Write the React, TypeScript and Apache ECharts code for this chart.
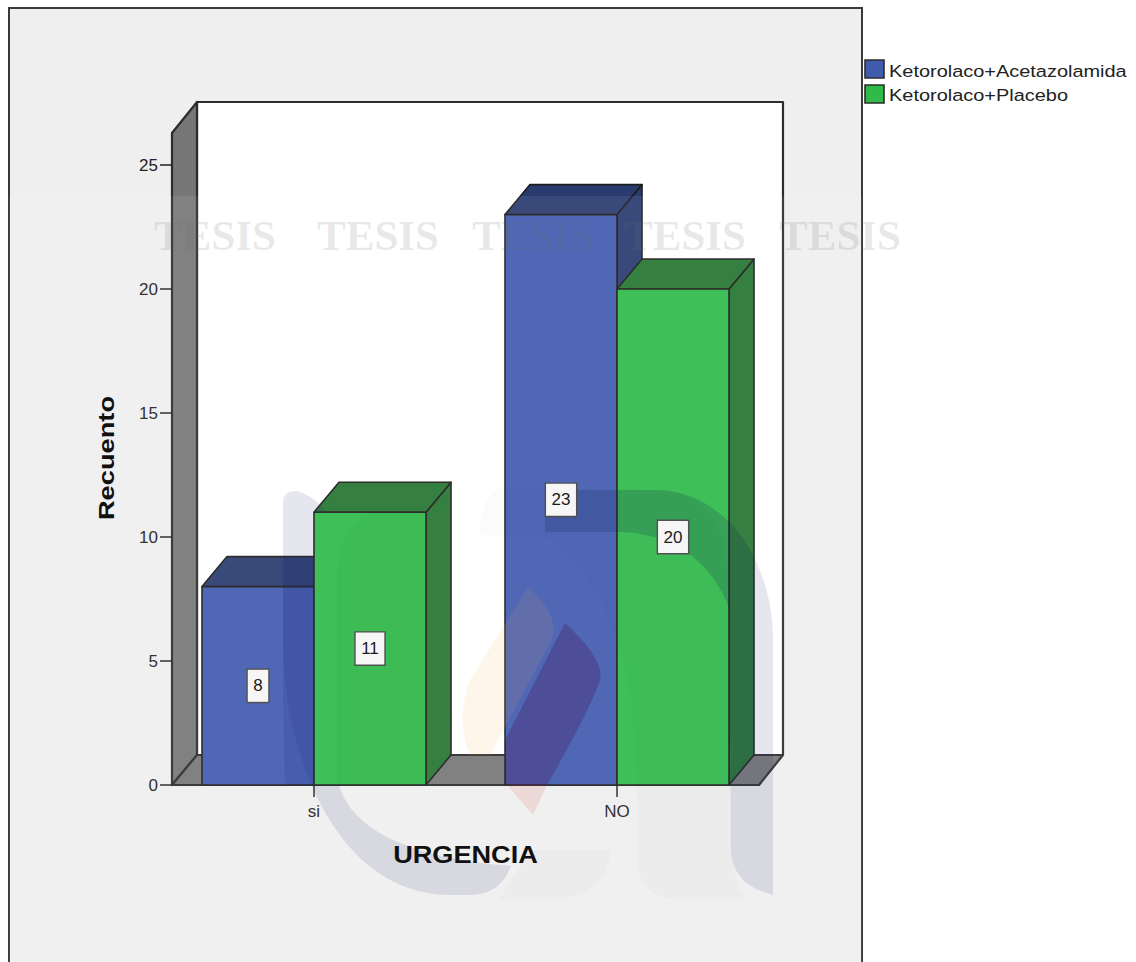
import React, { useEffect, useRef } from "react";
import * as echarts from "echarts";

// Counts per urgency answer and treatment arm
const categories = ["si", "NO"];
const acetazolamida = [8, 23];
const placebo = [11, 20];
const seriesNames = ["Ketorolaco+Acetazolamida", "Ketorolaco+Placebo"];
const watermarkWord = "TESIS";
const watermarkXs = [215, 378, 533, 685, 840];

// Oblique projection used for the pseudo 3D box look
const DEPTH_X = 25;
const DEPTH_Y = -30;
const BAR_SHARE = 112 / 303;

const FONT = '"Liberation Sans", Arial, sans-serif';
const EDGE = "#1c1c1c";

const PALETTE = [
  { front: "#415baf", shade: "#293b6f" },
  { front: "#2fba4a", shade: "#247530" },
];

echarts.graphic.registerShape(
  "sealBand",
  echarts.graphic.extendPath(
    "M283 503Q283 491 296 491Q312 494 327 512L314 512L314 785L339 785C352 830 410 858 511 866Q500 895 470 895L450 895C340 895 283 760 283 640Z",
    {}
  )
);
echarts.graphic.registerShape(
  "sealBandOnBox",
  echarts.graphic.extendPath("M283 557L314 557L314 785L285 785Q283 720 283 640Z", {})
);
echarts.graphic.registerShape(
  "sealArch",
  echarts.graphic.extendPath(
    "M545 490L655 490C725 490 773 560 773 640L773 895Q732 885 731 850L730 610C712 560 670 532 617 532L545 532Z",
    {}
  )
);
echarts.graphic.registerShape(
  "sealArchOnBox",
  echarts.graphic.extendPath(
    "M545 490L655 490C700 490 735 520 754 556L754 755L730 785L730 610C712 560 670 532 617 532L545 532Z",
    {}
  )
);
echarts.graphic.registerShape(
  "sealFaint",
  echarts.graphic.extendPath(
    "M480 535Q480 487 510 487L655 490C725 490 730 560 730 610L732 860Q735 885 747 900L684 900Q638 900 638 860L637 785C637 700 620 590 550 538Z",
    {}
  )
);
echarts.graphic.registerShape(
  "sealFoot",
  echarts.graphic.extendPath("M530 850L610 850Q610 890 560 900L499 900Z", {})
);
echarts.graphic.registerShape(
  "sealColumn",
  echarts.graphic.extendPath("M337 570Q340 525 372 512L426 512L426 785L337 785Z", {})
);
echarts.graphic.registerShape(
  "flameGold",
  echarts.graphic.extendPath("M528 587Q560 615 552 640L490 755L470 755Q455 720 470 680Z", {})
);
echarts.graphic.registerShape(
  "flamePlum",
  echarts.graphic.extendPath("M565 623Q605 660 600 680Q590 710 547 785L505 785L505 740Z", {})
);
echarts.graphic.registerShape(
  "flameRose",
  echarts.graphic.extendPath("M507 785L547 785L533 815Z", {})
);

function barOffsetSign(seriesIndex: number) {
  return seriesIndex === 0 ? -1 : 0;
}

// One box: front face plus the receding top and side faces
function renderBox(params: any, api: any) {
  const tint = PALETTE[params.seriesIndex];
  const index = api.value(0);
  const [cx, top] = api.coord([index, api.value(1)]);
  const base = api.coord([index, 0])[1];
  const width = api.size([1, 0])[0] * BAR_SHARE;
  const left = cx + barOffsetSign(params.seriesIndex) * width;
  const right = left + width;
  const line = { stroke: EDGE, lineWidth: 1.6, lineJoin: "round" };
  return {
    type: "group",
    children: [
      {
        type: "polygon",
        shape: { points: [[right, top], [right + DEPTH_X, top + DEPTH_Y], [right + DEPTH_X, base + DEPTH_Y], [right, base]] },
        style: { fill: tint.shade, ...line },
      },
      {
        type: "polygon",
        shape: { points: [[left, top], [left + DEPTH_X, top + DEPTH_Y], [right + DEPTH_X, top + DEPTH_Y], [right, top]] },
        style: { fill: tint.shade, ...line },
      },
      {
        type: "rect",
        shape: { x: left, y: top, width, height: base - top },
        style: { fill: tint.front, ...line },
      },
    ],
  };
}

// Value tag in the middle of a box front
function renderTag(armIndex: number) {
  return (_params: any, api: any) => {
    const index = api.value(0);
    const value = api.value(1);
    const [cx, top] = api.coord([index, value]);
    const base = api.coord([index, 0])[1];
    const width = api.size([1, 0])[0] * BAR_SHARE;
    const x = cx + (barOffsetSign(armIndex) + 0.5) * width;
    const y = (top + base) / 2;
    return {
      type: "text",
      x,
      y,
      style: {
        text: String(value),
        fill: "#1a1a1a",
        font: `17px ${FONT}`,
        align: "center",
        verticalAlign: "middle",
        backgroundColor: "#f6f6f6",
        borderColor: "#505050",
        borderWidth: 1.4,
        padding: [8, 5.5, 7, 5.5],
      },
    };
  };
}

const toData = (values: number[]) => values.map((v, i) => [i, v]);

function buildFrame() {
  const frameLine = { stroke: "#2c2c2c", lineWidth: 2.2, lineJoin: "round" };
  return [
    { type: "rect", z: -2, shape: { x: 9, y: 8, width: 853, height: 954 }, style: { fill: "#efefef" } },
    {
      type: "polyline",
      z: -2,
      shape: { points: [[9, 962], [9, 8], [862, 8], [862, 962]] },
      style: { fill: "none", stroke: "#3a3a3a", lineWidth: 2 },
    },
    { type: "rect", z: -1, shape: { x: 197, y: 102, width: 586, height: 653 }, style: { fill: "#ffffff", ...frameLine } },
    {
      type: "polygon",
      z: -1,
      shape: { points: [[172, 133], [197, 102], [197, 755], [172, 785]] },
      style: { fill: "#777777", ...frameLine },
    },
    {
      type: "polygon",
      z: -1,
      shape: { points: [[172, 785], [197, 755], [783, 755], [759, 785]] },
      style: { fill: "#777777", ...frameLine },
    },
  ];
}

function buildOverlay() {
  const word = watermarkXs.map((x) => ({
    type: "text",
    z: 10,
    x,
    y: 235,
    style: {
      text: watermarkWord,
      fill: "rgba(110,110,110,0.16)",
      font: `bold 43px "Liberation Serif", serif`,
      align: "center",
      verticalAlign: "middle",
    },
  }));
  const seal = [
    { type: "sealFaint", fill: "rgba(30,30,80,0.02)" },
    { type: "sealFoot", fill: "rgba(30,30,80,0.02)" },
    { type: "sealColumn", fill: "rgba(0,30,20,0.025)" },
    { type: "sealBand", fill: "rgba(25,30,105,0.11)" },
    { type: "sealBandOnBox", fill: "rgba(20,30,110,0.12)" },
    { type: "sealArch", fill: "rgba(25,30,105,0.11)" },
    { type: "sealArchOnBox", fill: "rgba(10,50,50,0.09)" },
    { type: "flameGold", fill: "rgba(245,175,70,0.11)" },
    { type: "flamePlum", fill: "rgba(70,0,60,0.24)" },
    { type: "flameRose", fill: "rgba(225,60,60,0.13)" },
  ].map((s) => ({ type: s.type, z: 10, x: 0, y: 0, style: { fill: s.fill } }));
  return [
    {
      type: "rect",
      z: 9,
      shape: { x: 9, y: 196, width: 853, height: 766 },
      style: { fill: "rgba(255,255,255,0.08)" },
    },
    ...seal,
    ...word,
  ];
}

function buildCaptions() {
  const legend = seriesNames.flatMap((name, i) => [
    {
      type: "rect",
      z: 12,
      shape: { x: 865, y: 60 + i * 25, width: 19, height: 18 },
      style: { fill: PALETTE[i].front, stroke: "#2c2c2c", lineWidth: 1.6 },
    },
    {
      type: "text",
      z: 12,
      x: 889,
      y: 71 + i * 24,
      scaleX: 1.174,
      style: { text: name, fill: "#222222", font: `17px ${FONT}`, align: "left", verticalAlign: "middle" },
    },
  ]);
  return [
    ...legend,
    {
      type: "text",
      z: 12,
      x: 465.5,
      y: 855,
      scaleX: 1.18,
      style: { text: "URGENCIA", fill: "#111111", font: `bold 23px ${FONT}`, align: "center", verticalAlign: "middle" },
    },
    {
      type: "text",
      z: 12,
      x: 106,
      y: 458,
      rotation: Math.PI / 2,
      scaleX: 1.24,
      style: { text: "Recuento", fill: "#111111", font: `bold 22px ${FONT}`, align: "center", verticalAlign: "middle" },
    },
  ];
}

export default function App() {
  const ref = useRef<HTMLDivElement>(null);
  useEffect(() => {
    const chart = echarts.init(ref.current!, undefined, { renderer: "svg" });
    const arms = [acetazolamida, placebo];
    chart.setOption({
      animation: false,
      backgroundColor: "#ffffff",
      grid: { left: 162.5, width: 606, top: 165, height: 620, containLabel: false },
      xAxis: {
        type: "category",
        data: categories,
        axisLine: { show: false },
        axisTick: { show: true, alignWithLabel: true, length: 12, lineStyle: { color: "#222222", width: 1.5 } },
        axisLabel: { color: "#222222", fontFamily: FONT, fontSize: 17, margin: 18, interval: 0 },
      },
      yAxis: {
        type: "value",
        min: 0,
        max: 25,
        interval: 5,
        offset: -9.5,
        splitLine: { show: false },
        axisLine: { show: false },
        axisTick: { show: true, length: 12, lineStyle: { color: "#222222", width: 1.5 } },
        axisLabel: { color: "#222222", fontFamily: FONT, fontSize: 17, margin: 14 },
      },
      graphic: { elements: [...buildFrame(), ...buildOverlay(), ...buildCaptions()] },
      series: [
        ...arms.map((values, i) => ({
          type: "custom",
          name: seriesNames[i],
          z: 2,
          clip: false,
          renderItem: renderBox,
          encode: { x: 0, y: 1 },
          data: toData(values),
        })),
        ...arms.map((values, i) => ({
          type: "custom",
          name: `${seriesNames[i]} valor`,
          z: 11,
          clip: false,
          renderItem: renderTag(i),
          encode: { x: 0, y: 1 },
          data: toData(values),
        })),
      ],
    });
    return () => chart.dispose();
  }, []);
  return <div ref={ref} style={{ position: "absolute", left: 0, top: 0, width: 1136, height: 962 }} />;
}
